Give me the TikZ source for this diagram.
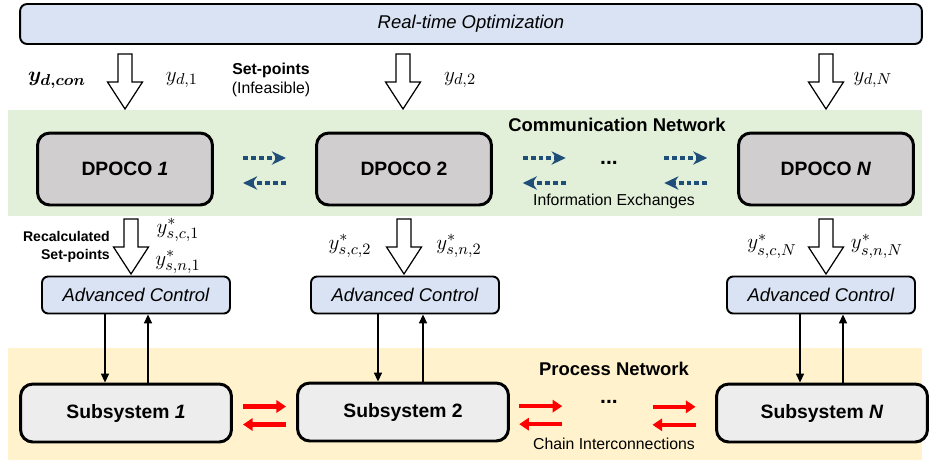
\documentclass[tikz,border=0pt]{standalone}
\usepackage{fontspec}
\setmainfont{Liberation Sans}
\usepackage{amsmath}
\usepackage{bm}
\usetikzlibrary{positioning, arrows.meta, calc}
\definecolor{cOpt}{HTML}{DAE3F3}
\definecolor{cComm}{HTML}{E2F0D9}
\definecolor{cProc}{HTML}{FFF2CC}
\definecolor{cDpoco}{HTML}{D0CECE}
\definecolor{cSub}{HTML}{EDEDED}
\definecolor{cInfo}{HTML}{1F4E79}
\definecolor{cLink}{HTML}{FF0000}

\begin{document}
\begin{tikzpicture}[
  x=0.02cm, y=-0.02cm,
  optbox/.style={rounded corners=4pt, draw=black, line width=1.1pt, fill=cOpt,
                 font=\fontsize{10.5}{12}\selectfont\itshape},
  dpoco/.style={rounded corners=7pt, draw=black, line width=1.7pt, fill=cDpoco,
                minimum width=3.5cm, minimum height=1.44cm,
                font=\fontsize{11}{13}\selectfont\bfseries},
  ctrlbox/.style={optbox, rounded corners=3.5pt, minimum width=3.76cm, minimum height=0.74cm},
  subsys/.style={dpoco, fill=cSub, minimum width=4.22cm, minimum height=1.16cm},
  setarrow/.pic={
    \draw[fill=white, line width=0.7pt, line join=miter]
      (-7,-27.5) -- (7,-27.5) -- (7,0.5) -- (17.5,0.5) -- (0,27.5)
      -- (-17.5,0.5) -- (-7,0.5) -- cycle;
  },
  sig/.style={font=\fontsize{13}{15}\selectfont},
  lab/.style={font=\fontsize{9}{11}\selectfont},
  head/.style={font=\fontsize{10.5}{12}\selectfont\bfseries},
  dots/.style={font=\fontsize{12}{14}\selectfont\bfseries},
  info/.style={-{Stealth[length=8pt, width=7.5pt, inset=2.5pt]}, draw=cInfo,
               line width=2.8pt, dash pattern=on 2.8pt off 1.7pt},
  link/.style={-{Triangle[length=5.5pt, width=7pt]}, draw=cLink, line width=2.3pt},
  ctrl/.style={-{Triangle[length=5pt, width=4.5pt]}, line width=0.85pt},
]
\useasboundingbox (0,0) rectangle (930,461);

% ---- Network bands ------------------------------------------------------
\fill[cComm] (8,110) rectangle (922,216);
\fill[cProc] (8,348) rectangle (922,460);

% ---- Real-time optimization --------------------------------------------
\node[optbox, minimum width=18.04cm, minimum height=0.8cm] (rto) at (471,24)
  {Real-time Optimization};

% ---- Set-points from RTO ------------------------------------------------
\foreach \x [count=\k] in {125,403,826} { \pic (sp\k) at (\x,81.5) {setarrow}; }
\node[sig] (ydcon) at (57,80) {$\bm{y_{d,con}}$};
\node[sig] (yd1) at (182,80) {$y_{d,1}$};
\node[sig] (yd2) at (460,80) {$y_{d,2}$};
\node[sig] (ydN) at (873,80) {$y_{d,N}$};
\node[lab, align=center] (spinf) at (271,80) {\textbf{Set-points}\\(Infeasible)};

% ---- Communication network (DPOCOs) ------------------------------------
\node[head] (commnet) at (617,125) {Communication Network};
\node[dpoco] (dp1) at (125,169) {DPOCO \textit{1}};
\node[dpoco] (dp2) at (404,169) {DPOCO 2};
\node[dpoco] (dpN) at (826,169) {DPOCO \textit{N}};
\node[dots] (cdots) at (609,163) {...};
\node[lab] (infoex) at (614,201) {Information Exchanges};

\foreach \a/\b/\f in {dp1/dp2/0.5, dp2/dpN/0.21, dp2/dpN/0.79} {
  \coordinate (m) at ($(\a.east)!\f!(\b.west)$);
  \draw[info] ($(m)+(-21.5,-11)$) -- ($(m)+(21.5,-11)$);
  \draw[info] ($(m)+(21.5,14)$) -- ($(m)+(-21.5,14)$);
}

% ---- Recalculated set-points -------------------------------------------
\foreach \x [count=\k] in {131,404,826} { \pic (rs\k) at (\x,246.5) {setarrow}; }
\node[font=\fontsize{8}{10}\selectfont\bfseries, align=right, anchor=east] (recalc)
  at (116,247) {Recalculated\\Set-points};
\node[sig] (ysc1) at (178,230) {$y^{*}_{s,c,1}$};
\node[sig] (ysn1) at (178,262) {$y^{*}_{s,n,1}$};
\node[sig] (ysc2) at (350,246) {$y^{*}_{s,c,2}$};
\node[sig] (ysn2) at (459,246) {$y^{*}_{s,n,2}$};
\node[sig] (yscN) at (772,246) {$y^{*}_{s,c,N}$};
\node[sig] (ysnN) at (877,246) {$y^{*}_{s,n,N}$};

% ---- Advanced control ---------------------------------------------------
\node[ctrlbox] (ac1) at (136,295) {Advanced Control};
\node[ctrlbox] (ac2) at (405,295) {Advanced Control};
\node[ctrlbox] (acN) at (821,295) {Advanced Control};

% ---- Process network (subsystems) --------------------------------------
\node[head] (procnet) at (614,369) {Process Network};
\node[subsys] (sub1) at (126,413) {Subsystem \textit{1}};
\node[subsys] (sub2) at (403,412) {Subsystem 2};
\node[subsys] (subN) at (822,413) {Subsystem \textit{N}};
\node[dots] (pdots) at (609,402) {...};
\node[lab] (chain) at (614,444) {Chain Interconnections};

\foreach \a/\b/\f in {sub1/sub2/0.5, sub2/subN/0.15, sub2/subN/0.8} {
  \coordinate (m) at ($(\a.east)!\f!(\b.west)$);
  \draw[link] ($(m)+(-21.5,-6)$) -- ($(m)+(21.5,-6)$);
  \draw[link] ($(m)+(21.5,12)$) -- ($(m)+(-21.5,12)$);
}

% ---- Control loops ------------------------------------------------------
\foreach \n/\dn/\up in {1/105/148, 2/378/423, N/800/843} {
  \coordinate (dn\n) at (\dn,0);
  \coordinate (up\n) at (\up,0);
  \draw[ctrl] (ac\n.south -| dn\n) -- (sub\n.north -| dn\n);
  \draw[ctrl] (sub\n.north -| up\n) -- (ac\n.south -| up\n);
}

\end{tikzpicture}
\end{document}
